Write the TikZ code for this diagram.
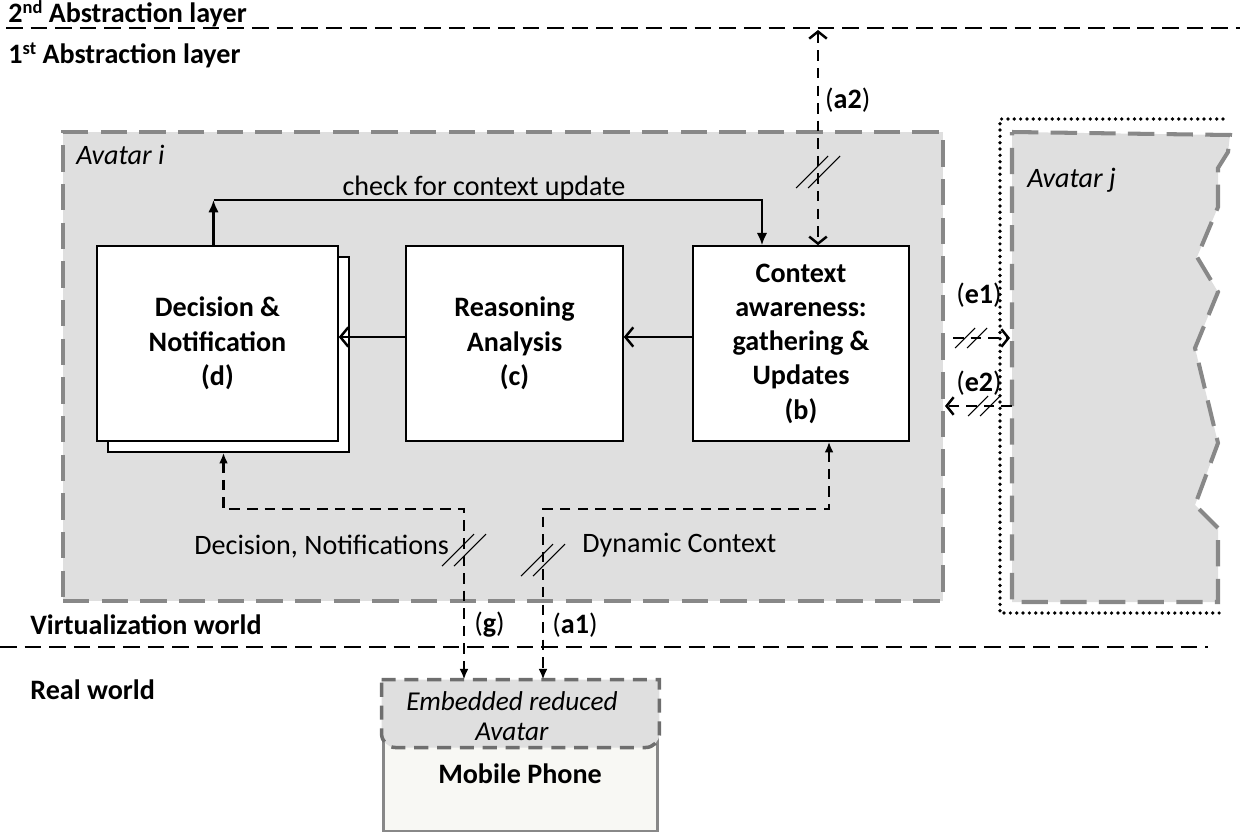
\documentclass[tikz,border=0pt]{standalone}
\usepackage{fontspec}
\setmainfont{Carlito}
\usepackage{xcolor}
\usetikzlibrary{calc,arrows.meta,shadows}

\definecolor{avgray}{HTML}{DFDFDF}
\definecolor{brdgray}{HTML}{888888}
\definecolor{inngray}{HTML}{6E6E6E}
\definecolor{phonefill}{HTML}{F8F8F4}

\newcommand{\supr}[1]{\raisebox{0.32em}{\fontsize{10.5}{10}\selectfont #1}}

\begin{document}
\begin{tikzpicture}[x=0.02cm, y=-0.02cm,
    every node/.style={font=\fontsize{16}{19.5}\selectfont},
    blk/.style={draw, line width=0.9pt, fill=white, align=center, inner sep=2pt,
        minimum height=3.9cm, font=\fontsize{16}{19.5}\selectfont\bfseries},
    avbox/.style={fill=avgray, draw=brdgray, line width=2.3pt, dash pattern=on 15pt off 7pt},
    layer/.style={line width=1.6pt, dash pattern=on 9.5pt off 4.5pt},
    link/.style={line width=1.4pt, dash pattern=on 6pt off 4pt},
    solidarr/.style={line width=1.4pt, -{Latex[length=7pt,width=6pt]}},
    openarr/.style={line width=1.4pt, -{Straight Barb[length=4.5pt,width=11pt,line width=1.4pt]}},
    lbl/.style={font=\fontsize{16}{19.5}\selectfont\bfseries}
]
    \useasboundingbox (0,0) rectangle (1240,832);

    % =====================
    % Abstraction layers
    % =====================
    \draw[layer] (6,28) -- (1240,28);
    \node[lbl, anchor=base west, inner sep=0] (l2) at (8,22) {2\supr{nd} Abstraction layer};
    \node[lbl, anchor=base west, inner sep=0] (l1) at (8,63) {1\supr{st} Abstraction layer};

    \draw[layer] (0,647) -- (1208,647);
    \node[lbl, anchor=west, inner sep=0] (virt) at (30,625) {Virtualization world};
    \node[lbl, anchor=west, inner sep=0] (real) at (30,690) {Real world};

    % =====================
    % Avatar i
    % =====================
    \node[avbox, minimum width=17.6cm, minimum height=9.38cm, inner sep=0] (avi) at (503,366.5) {};
    \node[anchor=west, inner sep=0] (avilbl) at (76,155) {\itshape Avatar i};

    \node[blk, minimum width=4.82cm, copy shadow={shadow xshift=6.3pt, shadow yshift=-6.3pt}] (d) at (217.5,343.5)
        {Decision \&\\Notification\\(d)};
    \node[blk, minimum width=4.34cm] (c) at (514.5,343.5) {Reasoning\\Analysis\\(c)};
    \node[blk, minimum width=4.32cm] (b) at (801,343.5) {Context\\awareness:\\gathering \&\\Updates\\(b)};

    % internal flow
    \coordinate (mid) at (0,337);
    \draw[openarr] (b.west |- mid) -- (c.east |- mid);
    \draw[openarr] (c.west |- mid) -- (d.east |- mid);

    % check loop
    \coordinate (chk) at (0,200);
    \draw[solidarr] ($(d.north)+(-4,0)$) -- ($(d.north |- chk)+(-4,0)$);
    \draw[solidarr] ($(d.north |- chk)+(-4,0)$) -| ($(b.north)+(-39,0)$);
    \node (chklbl) at (484,188) {check for context update};

    % =====================
    % Avatar j
    % =====================
    \filldraw[avbox] (1012,132) -- (1230,135) -- (1228,152) -- (1218,168) -- (1218,207) -- (1197,257)
        -- (1218,292) -- (1195,348) -- (1218,443) -- (1195,505) -- (1218,528) -- (1218,602)
        -- (1012,602) -- cycle;
    \draw[line width=2.1pt, line cap=round, dash pattern=on 0pt off 3.6pt]
        (1223,119) -- (1000,119) -- (1000,613) -- (1222,613);
    \node[anchor=west, inner sep=0] (avjlbl) at (1027,180) {\itshape Avatar j};

    % =====================
    % Links between layers and avatars
    % =====================
    \coordinate (top2) at (818,30);
    \draw[link, {Straight Barb[length=4pt,width=10pt,line width=1.4pt]}-{Straight Barb[length=4pt,width=10pt,line width=1.4pt]}]
        (top2) -- (top2 |- b.north);
    \node[anchor=west, inner sep=1pt] (a2) at (823,100) {(\textbf{a2})};

    \coordinate (e1s) at (953,338);
    \coordinate (e1t) at (1010,338);
    \draw[link, -{Straight Barb[length=4pt,width=10pt,line width=1.4pt]}] (e1s) -- (e1t);
    \node[inner sep=0] (e1) at (979,295) {(\textbf{e1})};

    \coordinate (e2s) at (1012,406);
    \coordinate (e2t) at (945,406);
    \draw[link, -{Straight Barb[length=4pt,width=10pt,line width=1.4pt]}] (e2s) -- (e2t);
    \node[inner sep=0] (e2) at (979,383) {(\textbf{e2})};

    % =====================
    % Mobile phone
    % =====================
    \node[draw=brdgray, line width=1.7pt, fill=phonefill, minimum width=5.5cm, minimum height=3cm,
        inner sep=0] (phone) at (520.5,756) {};
    \filldraw[fill=avgray, draw=inngray, line width=2pt, dash pattern=on 8pt off 5pt]
        (phone.north west) -- (phone.north east)
        {[rounded corners=8pt] -- ($(phone.north east)+(0,68)$) -- ($(phone.north west)+(0,68)$)} -- cycle;
    \node[align=center, inner sep=0, font=\fontsize{15.5}{17}\selectfont\itshape] (emb) at (512,716)
        {Embedded reduced\\Avatar};
    \node[lbl, inner sep=0] (mob) at (520,774) {Mobile Phone};

    \coordinate (gx) at (464,509);
    \coordinate (ax) at (543,509);
    \draw[link, {Latex[length=6pt,width=5pt]}-{Latex[length=6pt,width=5pt]}]
        ($(d.south)+(6,11)$) |- (gx) -- (gx |- phone.north);
    \draw[link, {Latex[length=6pt,width=5pt]}-{Latex[length=6pt,width=5pt]}]
        ($(b.south)+(28,0)$) |- (ax) -- (ax |- phone.north);
    \node[anchor=west, inner sep=0] (declbl) at (194,547) {Decision, Notifications};
    \node[anchor=west, inner sep=0] (dynlbl) at (582,545) {Dynamic Context};
    \node[anchor=west, inner sep=0] (g) at (474,625) {(\textbf{g})};
    \node[anchor=west, inner sep=0] (a1) at (552,625) {(\textbf{a1})};

    % break marks
    \foreach \x/\y/\s in {818/172/16, 464/550/16, 543/560/16, 971/338/10, 984/406/10} {
        \foreach \dx in {-6,6}
            \draw[line width=0.6pt] ($(\x,\y)+(\dx,0)+(-\s,\s)$) -- ++(2*\s,-2*\s);
    }
\end{tikzpicture}
\end{document}
